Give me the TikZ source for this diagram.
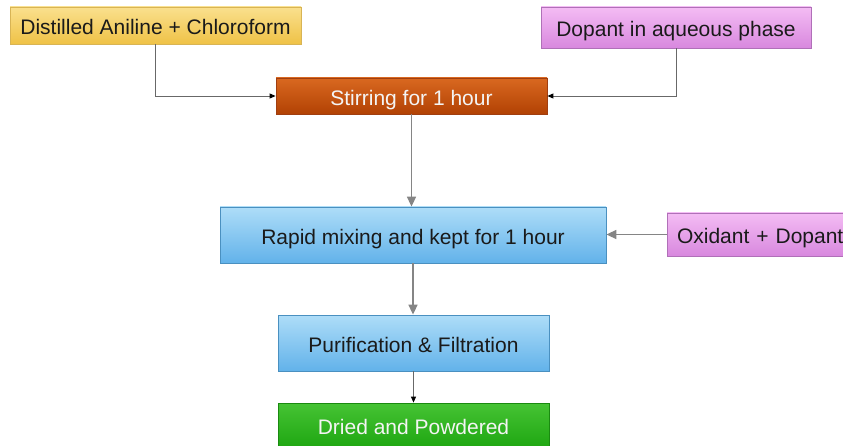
\documentclass[tikz,border=0pt]{standalone}
\usepackage{fontspec}
\setmainfont{Liberation Sans}
\usetikzlibrary{arrows.meta}

\definecolor{ylTop}{HTML}{FAE08E}
\definecolor{ylBot}{HTML}{EFC246}
\definecolor{ylEdge}{HTML}{D8B455}
\definecolor{vtTop}{HTML}{F4BCF4}
\definecolor{vtBot}{HTML}{D888DE}
\definecolor{vtEdge}{HTML}{B070B8}
\definecolor{orTop}{HTML}{D96820}
\definecolor{orBot}{HTML}{B24204}
\definecolor{orEdge}{HTML}{A03E10}
\definecolor{blTop}{HTML}{AEDDF8}
\definecolor{blBot}{HTML}{62B2EA}
\definecolor{blEdge}{HTML}{4A90C0}
\definecolor{grTop}{HTML}{46C334}
\definecolor{grBot}{HTML}{1FA712}
\definecolor{grEdge}{HTML}{1A8A10}
\definecolor{inkDark}{HTML}{1A1A1A}
\definecolor{inkLight}{HTML}{F4F4F4}
\definecolor{lineThin}{HTML}{686868}
\definecolor{lineGray}{HTML}{858585}

\tikzset{
  box/.style={rectangle, inner sep=0pt, line width=0.8pt,
    font=\fontsize{21}{24}\selectfont, align=center,
    text height=19pt, text depth=0pt},
  yellowbox/.style={box, draw=ylEdge, top color=ylTop, bottom color=ylBot, text=inkDark},
  violetbox/.style={box, draw=vtEdge, top color=vtTop, bottom color=vtBot, text=inkDark},
  orangebox/.style={box, draw=orEdge, top color=orTop, bottom color=orBot, text=inkLight},
  bluebox/.style={box, draw=blEdge, top color=blTop, bottom color=blBot, text=inkDark},
  greenbox/.style={box, draw=grEdge, top color=grTop, bottom color=grBot, text=inkLight},
  thinarrow/.style={draw=lineThin, line width=0.9pt,
    -{Triangle[length=6pt,width=5pt,fill=black,color=black]}},
  grayarrow/.style={draw=lineGray, line width=1.6pt,
    -{Triangle[length=10pt,width=9pt]}},
}

\begin{document}
\begin{tikzpicture}[x=1pt, y=-1pt]
  \useasboundingbox (0,0) rectangle (843,446);

  \node[yellowbox, minimum width=291pt, minimum height=37pt] (aniline) at (155.5,25.5)
    {Distilled Aniline + Chloroform};
  \node[violetbox, minimum width=270pt, minimum height=41pt] (dopant) at (676,27.5)
    {Dopant in aqueous phase};
  \node[orangebox, minimum width=271pt, minimum height=36pt] (stir) at (411.5,96)
    {Stirring for 1 hour};
  \node[bluebox, minimum width=386pt, minimum height=56pt] (rapid) at (413,235)
    {Rapid mixing and kept for 1 hour};
  \node[violetbox, minimum width=190pt, minimum height=43pt, text width=170pt, align=left]
    (oxidant) at (762,234.5) {Oxidant + Dopant};
  \node[bluebox, minimum width=271pt, minimum height=56pt] (purify) at (413.5,343)
    {Purification \& Filtration};
  \node[greenbox, minimum width=271pt, minimum height=44pt] (dried) at (413.5,425)
    {Dried and Powdered};

  % feeds into the stirring step
  \draw[thinarrow] (aniline.south) |- (stir.west);
  \draw[thinarrow] (dopant.south) |- (stir.east);

  % main process chain
  \draw[grayarrow] (stir.south) -- (stir.south |- rapid.north);
  \draw[grayarrow] (oxidant.west) -- (rapid.east |- oxidant.west);
  \draw[grayarrow] (rapid.south) -- (rapid.south |- purify.north);
  \draw[thinarrow] (purify.south) -- (purify.south |- dried.north);
\end{tikzpicture}
\end{document}
